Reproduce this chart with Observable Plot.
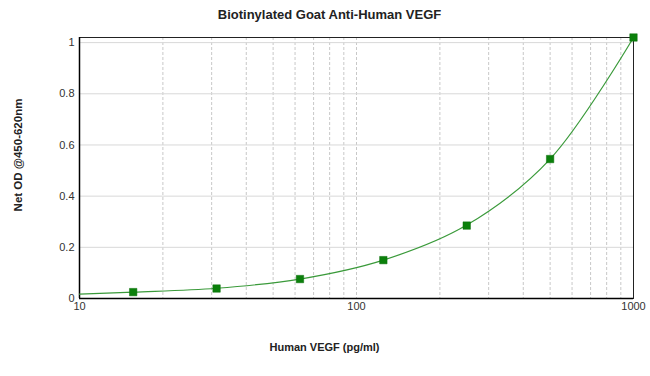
<!DOCTYPE html>
<html>
<head>
<meta charset="utf-8">
<script src="https://cdn.jsdelivr.net/npm/d3@7"></script>
<script src="https://cdn.jsdelivr.net/npm/@observablehq/plot@0.6"></script>
<style>
  html, body { margin: 0; padding: 0; background: #fff; }
  svg { display: block; }
</style>
</head>
<body>
<div id="chart"></div>
<script>
const concentrations = [15.625, 31.25, 62.5, 125, 250, 500, 1000];
const odValues = [0.025, 0.039, 0.076, 0.15, 0.285, 0.545, 1.02];
const fitX = [10, 15.625, 31.25, 62.5, 125, 250, 500, 1000];
const fitY = [0.017, 0.025, 0.040, 0.076, 0.150, 0.287, 0.545, 1.02];
const xTickLabels = [10, 100, 1000];
const xMinorGrid = [20, 30, 40, 50, 60, 70, 80, 90, 100, 200, 300, 400, 500, 600, 700, 800, 900];
const yTicks = [0, 0.2, 0.4, 0.6, 0.8, 1];

const points = concentrations.map((c, i) => ({x: c, y: odValues[i]}));
const fit = fitX.map((c, i) => ({x: c, y: fitY[i]}));

const chart = Plot.plot({
  width: 650,
  height: 376,
  marginLeft: 79,
  marginRight: 17,
  marginTop: 37,
  marginBottom: 78,
  style: {fontFamily: "'Liberation Sans', Arial, sans-serif", fontSize: "11px", color: "#333", background: "#fff"},
  x: {type: "log", domain: [10, 1000]},
  y: {domain: [0, 1.02]},
  marks: [
    Plot.gridX(xMinorGrid, {stroke: "#c8c8c8", strokeOpacity: 1, strokeDasharray: "3,2"}),
    Plot.gridY(yTicks.filter(d => d > 0), {stroke: "#d8d8d8", strokeOpacity: 1}),
    Plot.axisX(xTickLabels, {tickSize: 0, tickPadding: 4, tickFormat: d => String(d), label: null, fill: "#333"}),
    Plot.axisY(yTicks, {tickSize: 0, tickPadding: 5, tickFormat: d => String(d), label: null, fill: "#333"}),
    Plot.frame({stroke: "#222", strokeWidth: 1}),
    Plot.ruleX([10], {stroke: "#000", strokeWidth: 1.5}),
    Plot.ruleY([0], {stroke: "#000", strokeWidth: 1.5}),
    Plot.line(fit, {x: "x", y: "y", curve: "catmull-rom", stroke: "#3a9a3a", strokeWidth: 1.2}),
    Plot.dot(points, {x: "x", y: "y", symbol: "square", r: 4.2, fill: "#0b800b", stroke: "#0b6e0b", strokeWidth: 0.5}),
    Plot.text(["Biotinylated Goat Anti-Human VEGF"], {frameAnchor: "top", dx: -27, dy: -28, fontWeight: "bold", fontSize: 13, fill: "#222"}),
    Plot.text(["Human VEGF (pg/ml)"], {frameAnchor: "bottom", dx: -32, dy: 52, fontWeight: "bold", fontSize: 11, fill: "#222"}),
    Plot.text(["Net OD @450-620nm"], {frameAnchor: "left", textAnchor: "middle", dx: -61, dy: -13, rotate: -90, fontWeight: "bold", fontSize: 11.5, fill: "#222"})
  ]
});
document.getElementById("chart").appendChild(chart);
</script>
</body>
</html>
